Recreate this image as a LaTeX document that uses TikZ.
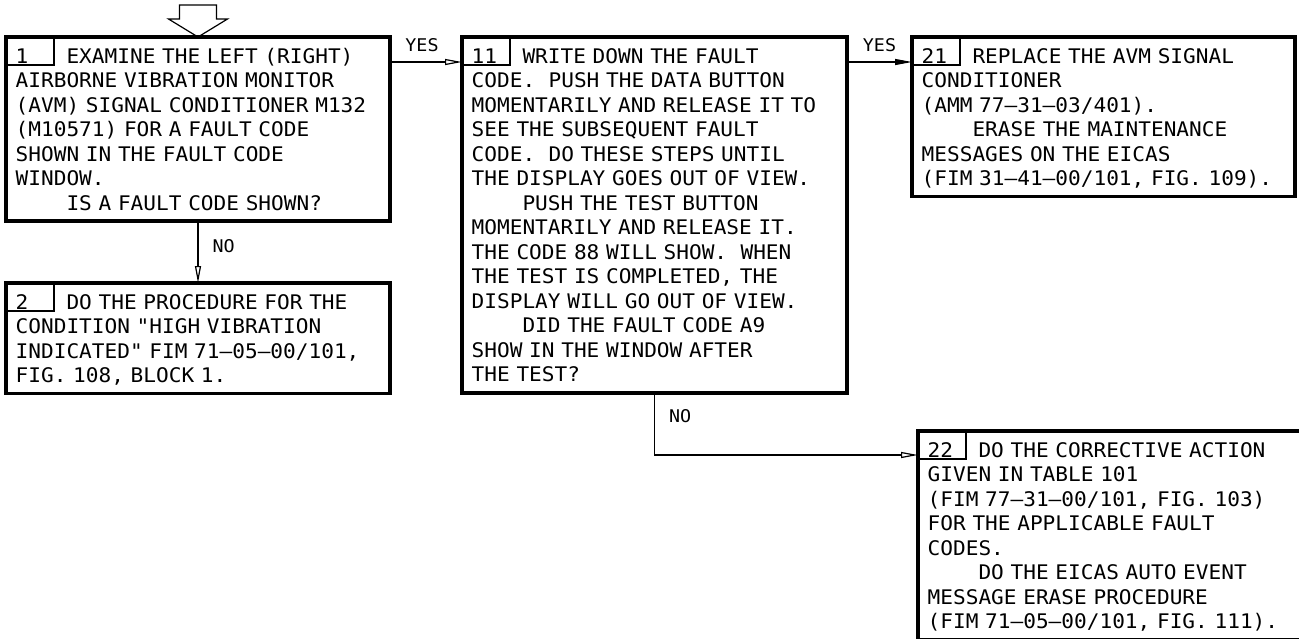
\documentclass[tikz,border=0pt]{standalone}
\usepackage{fontspec}
\setmonofont[FakeStretch=1.05]{DejaVu Sans Mono}
\usepackage{tikz}
\usetikzlibrary{arrows.meta,positioning}

\newcommand\blkfont{\ttfamily\fontsize{20.1}{24.5}\selectfont\frenchspacing}
\newcommand\lblfont{\ttfamily\fontsize{17.5}{17.5}\selectfont}
\newcommand\numcol[1]{\makebox[4\fontcharwd\font`\0][l]{#1}}
\newcommand\indcol{\hspace*{4\fontcharwd\font`\0}}

\begin{document}
\begin{tikzpicture}[
  x=1pt, y=-1pt,
  blk/.style={draw, line width=3.8pt, anchor=north west, minimum width=384pt, inner sep=0pt, outer sep=0pt},
  numcell/.style={draw, line width=1.2pt, anchor=north west, minimum width=48pt, minimum height=28pt, inner sep=0pt, outer sep=0pt},
  txt/.style={anchor=base west, inner sep=0pt, text width=372pt, align=left, font=\blkfont},
  lbl/.style={font=\lblfont, inner sep=0pt},
  flow/.style={line width=1.2pt},
  >={Triangle[open,length=17pt,width=6pt]}
]
  \useasboundingbox (0,0) rectangle (1299,638);

  \node[blk, minimum height=184pt] (b1) at (6,37) {};
  \node[blk, minimum height=110.5pt] (b2) at (6,283) {};
  \node[blk, minimum width=385pt, minimum height=356pt] (b11) at (462,37) {};
  \node[blk, minimum width=383pt, minimum height=159.5pt] (b21) at (912,37) {};
  \node[blk, minimum height=209pt] (b22) at (918,431) {};
  \foreach \b in {1,2,11,21,22}
    \node[numcell] (n\b) at (b\b.north west) {};

  \node[txt] (t1) at ([xshift=9.5pt,yshift=-26pt]b1.north west) {\numcol{1}EXAMINE THE LEFT (RIGHT)\\
    AIRBORNE VIBRATION MONITOR\\
    (AVM) SIGNAL CONDITIONER M132\\
    (M10571) FOR A FAULT CODE\\
    SHOWN IN THE FAULT CODE\\
    WINDOW.\\
    \indcol IS A FAULT CODE SHOWN?};
  \node[txt] (t2) at ([xshift=9.5pt,yshift=-26pt]b2.north west) {\numcol{2}DO THE PROCEDURE FOR THE\\
    CONDITION "HIGH VIBRATION\\
    INDICATED" FIM 71–05–00/101,\\
    FIG. 108, BLOCK 1.};
  \node[txt] (t11) at ([xshift=9.5pt,yshift=-26pt]b11.north west) {\numcol{11}WRITE DOWN THE FAULT\\
    CODE.\ \ PUSH THE DATA BUTTON\\
    MOMENTARILY AND RELEASE IT TO\\
    SEE THE SUBSEQUENT FAULT\\
    CODE.\ \ DO THESE STEPS UNTIL\\
    THE DISPLAY GOES OUT OF VIEW.\\
    \indcol PUSH THE TEST BUTTON\\
    MOMENTARILY AND RELEASE IT.\\
    THE CODE 88 WILL SHOW.\ \ WHEN\\
    THE TEST IS COMPLETED, THE\\
    DISPLAY WILL GO OUT OF VIEW.\\
    \indcol DID THE FAULT CODE A9\\
    SHOW IN THE WINDOW AFTER\\
    THE TEST?};
  \node[txt] (t21) at ([xshift=9.5pt,yshift=-26pt]b21.north west) {\numcol{21}REPLACE THE AVM SIGNAL\\
    CONDITIONER\\
    (AMM 77–31–03/401).\\
    \indcol ERASE THE MAINTENANCE\\
    MESSAGES ON THE EICAS\\
    (FIM 31–41–00/101, FIG. 109).};
  \node[txt] (t22) at ([xshift=9.5pt,yshift=-26pt]b22.north west) {\numcol{22}DO THE CORRECTIVE ACTION\\
    GIVEN IN TABLE 101\\
    (FIM 77–31–00/101, FIG. 103)\\
    FOR THE APPLICABLE FAULT\\
    CODES.\\
    \indcol DO THE EICAS AUTO EVENT\\
    MESSAGE ERASE PROCEDURE\\
    (FIM 71–05–00/101, FIG. 111).};

  \draw[flow] (b1.north) -- ++(-29.5,-18) -- ++(11,0) -- ++(0,-14) -- ++(37,0) -- ++(0,14) -- ++(11,0) -- cycle;
  \draw[flow,->] ([yshift=-25pt]b1.north east) -- node[lbl, above=10pt, xshift=-4pt] (yes1) {YES} ([yshift=-25pt]b11.north west);
  \draw[flow,-{Triangle[length=17pt,width=6pt]}] ([yshift=-25pt]b11.north east) -- node[lbl, above=10pt] (yes2) {YES} ([yshift=-25pt]b21.north west);
  \draw[flow,->] (b1.south) -- node[lbl, pos=0.4, right=14pt] (no1) {NO} (b2.north);
  \draw[flow,->] (b11.south) |- node[lbl, pos=0.19, right=14pt] (no2) {NO} ([yshift=-24pt]b22.north west);
\end{tikzpicture}
\end{document}
